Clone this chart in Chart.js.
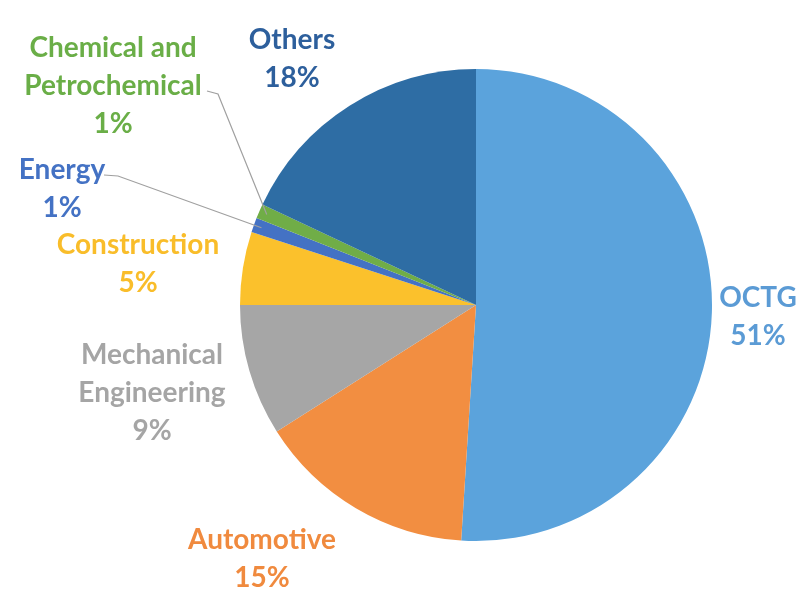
<!DOCTYPE html>
<html lang="en">
<head>
  <meta charset="UTF-8" />
  <title>Steel Demand by Sector</title>
  <script src="https://cdn.jsdelivr.net/npm/chart.js"></script>
  <style>
    body {
      margin: 0;
      background-color: #ffffff;
    }
    .chart-container {
      position: relative;
      width: 803px;
      height: 590px;
    }
  </style>
</head>
<body>

<div class="chart-container">
  <canvas id="sectorChart" width="803" height="590"></canvas>
</div>

<script>
  // sectors in clockwise order from 12 o'clock
  const sectors = ['OCTG', 'Automotive', 'Mechanical Engineering', 'Construction', 'Energy', 'Chemical and Petrochemical', 'Others'];
  const shares = [51, 15, 9, 5, 1, 1, 18];

  const sliceColors = ['#5ba3dc', '#f28e41', '#a6a6a6', '#fbc12c', '#4472c4', '#70ad47', '#2e6da4'];
  const textColors = ['#5b9bd5', '#f08a3e', '#a5a5a5', '#f9bd2a', '#4472c4', '#6aae47', '#2d5f9c'];

  // label blocks: line breaks, text centre and line positions, optional leader line
  const labelLayout = [
    { lines: ['OCTG'], x: 758, y: 298 },
    { lines: ['Automotive'], x: 262, y: 540 },
    { lines: ['Mechanical', 'Engineering'], x: 152, y: 355 },
    { lines: ['Construction'], x: 138, y: 245 },
    { lines: ['Energy'], x: 62, y: 170, leader: [[104, 175], [118, 176]] },
    { lines: ['Chemical and', 'Petrochemical'], x: 113, y: 48, leader: [[207, 91], [218, 94]] },
    { lines: ['Others'], x: 292, y: 40 }
  ];

  const lineGap = 38;

  const sliceLabels = {
    id: 'sliceLabels',
    afterDatasetsDraw(chart) {
      const ctx = chart.ctx;
      const arcs = chart.getDatasetMeta(0).data;
      ctx.save();
      ctx.font = 'bold 28px Lato, "Open Sans", sans-serif';
      ctx.textAlign = 'center';
      ctx.textBaseline = 'middle';
      labelLayout.forEach((lab, i) => {
        const rows = lab.lines.concat([shares[i] + '%']);
        ctx.fillStyle = textColors[i];
        rows.forEach((t, k) => ctx.fillText(t, lab.x, lab.y + k * lineGap));
        if (lab.leader) {
          const arc = arcs[i];
          const mid = (arc.startAngle + arc.endAngle) / 2;
          const ex = arc.x + Math.cos(mid) * (arc.outerRadius - 8);
          const ey = arc.y + Math.sin(mid) * (arc.outerRadius - 8);
          ctx.strokeStyle = '#a0a0a0';
          ctx.lineWidth = 1.2;
          ctx.beginPath();
          ctx.moveTo(lab.leader[0][0], lab.leader[0][1]);
          ctx.lineTo(lab.leader[1][0], lab.leader[1][1]);
          ctx.lineTo(ex, ey);
          ctx.stroke();
        }
      });
      ctx.restore();
    }
  };

  new Chart(document.getElementById('sectorChart'), {
    type: 'pie',
    data: {
      labels: sectors,
      datasets: [{
        data: shares,
        backgroundColor: sliceColors,
        borderWidth: 0
      }]
    },
    options: {
      responsive: false,
      animation: false,
      layout: { padding: { left: 240, right: 91, top: 69, bottom: 49 } },
      plugins: {
        legend: { display: false },
        tooltip: { enabled: false }
      }
    },
    plugins: [sliceLabels]
  });
</script>
</body>
</html>
